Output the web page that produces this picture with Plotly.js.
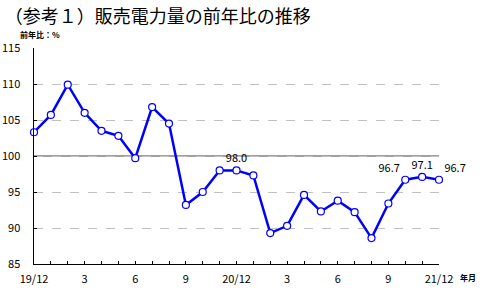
<!DOCTYPE html>
<html>
<head>
<meta charset="utf-8">
<script src="https://cdn.plot.ly/plotly-3.0.1.min.js"></script>
<style>html,body{margin:0;padding:0;background:#fff;}#chart{width:485px;height:292px;}</style>
</head>
<body>
<div id="chart"></div>
<script>
const months = ['19/12','1','2','3','4','5','6','7','8','9','10','11','20/12','1','2','3','4','5','6','7','8','9','10','11','21/12'];
const tickLabels = ['19/12','','','3','','','6','','','9','','','20/12','','','3','','','6','','','9','','','21/12'];
const values = [103.3, 105.7, 109.9, 106.0, 103.5, 102.8, 99.7, 106.8, 104.5, 93.2, 95.0, 98.0, 98.0, 97.3, 89.3, 90.3, 94.6, 92.3, 93.8, 92.2, 88.6, 93.4, 96.7, 97.1, 96.7];
const labelIdx = [12, 22, 23, 24];
const labelPos = {12: 'top center', 22: 'top left', 23: 'top center', 24: 'top right'};

const xs = months.map((_, i) => i);
const texts = values.map((v, i) => labelIdx.includes(i) ? v.toFixed(1) : '');
const tpos = values.map((v, i) => labelPos[i] || 'top center');

const font = 'Noto Sans CJK JP, DejaVu Sans, sans-serif';

const trace = {
  x: xs, y: values, type: 'scatter', mode: 'lines+markers+text',
  line: {color: '#0000ff', width: 2.5},
  marker: {symbol: 'circle', size: 7, color: '#ffffff', line: {color: '#0000ff', width: 1.2}},
  text: texts, textposition: tpos,
  textfont: {family: font, size: 11, color: '#000'},
  cliponaxis: false, hoverinfo: 'skip'
};

const layout = {
  width: 485, height: 292,
  margin: {l: 34, r: 46, t: 48, b: 28},
  paper_bgcolor: '#fff', plot_bgcolor: '#fff',
  showlegend: false,
  title: {text: '（参考１）販売電力量の前年比の推移', xref: 'container', yref: 'container',
          x: 0.01, xanchor: 'left', y: 0.942, yanchor: 'middle',
          font: {family: font, size: 18, color: '#000', weight: 'normal'}},
  xaxis: {
    range: [0, 24], tickmode: 'array', tickvals: xs, ticktext: tickLabels,
    ticks: 'inside', ticklen: 3, tickcolor: '#000', showgrid: false, zeroline: false,
    showline: true, linecolor: '#000', linewidth: 1, ticklabelstandoff: 5,
    tickfont: {family: font, size: 11, color: '#000'}, tickangle: 0
  },
  yaxis: {
    range: [85, 115], tickmode: 'array', tickvals: [85, 90, 95, 100, 105, 110, 115],
    ticks: 'inside', ticklen: 3, tickcolor: '#000',
    showgrid: true, gridcolor: '#c0c0c0', griddash: 'dash', gridwidth: 1,
    zeroline: false, showline: true, linecolor: '#000', linewidth: 1.5, ticklabelstandoff: 10,
    tickfont: {family: font, size: 11, color: '#000'}
  },
  shapes: [{type: 'line', xref: 'x', yref: 'y', x0: 0, x1: 24, y0: 100, y1: 100,
            line: {color: '#808080', width: 1.5}, layer: 'below'}],
  annotations: [
    {text: '<b>前年比：%</b>', xref: 'paper', yref: 'paper', x: -0.04, y: 1.03, xanchor: 'left', yanchor: 'bottom',
     showarrow: false, font: {family: font, size: 8, color: '#000'}},
    {text: '<b>年月</b>', xref: 'paper', yref: 'paper', x: 1.047, y: -0.0625, xanchor: 'left', yanchor: 'middle',
     showarrow: false, font: {family: font, size: 8, color: '#000'}}
  ]
};

Plotly.newPlot('chart', [trace], layout, {displayModeBar: false, staticPlot: true});
</script>
</body>
</html>
